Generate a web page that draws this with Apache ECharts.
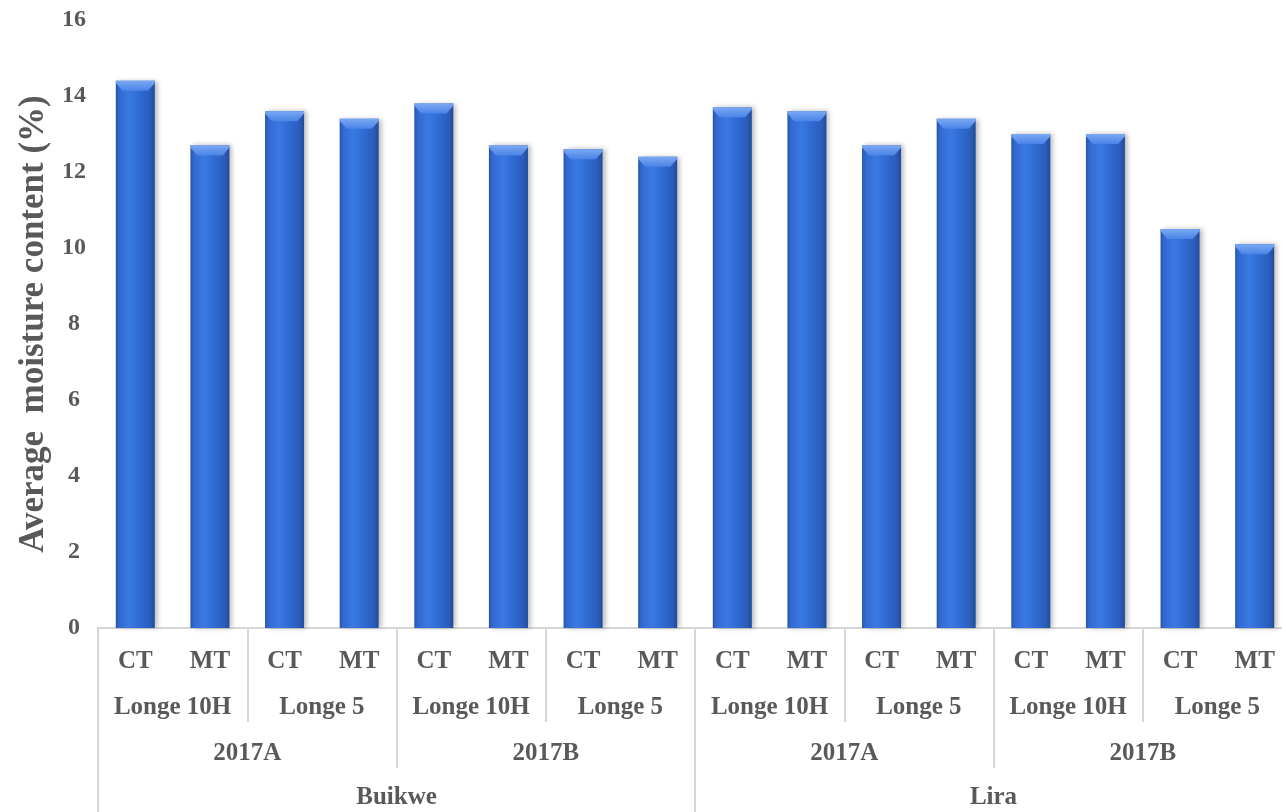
<!DOCTYPE html>
<html>
<head>
<meta charset="utf-8">
<title>Average moisture content</title>
<script src="https://cdn.jsdelivr.net/npm/echarts@6/dist/echarts.min.js"></script>
<style>
  html, body { margin: 0; padding: 0; background: #ffffff; }
  #chart { width: 1282px; height: 812px; }
</style>
</head>
<body>
<div id="chart"></div>
<script>
// Category levels of the x axis (innermost first)
const tillage = ['CT', 'MT', 'CT', 'MT', 'CT', 'MT', 'CT', 'MT',
                 'CT', 'MT', 'CT', 'MT', 'CT', 'MT', 'CT', 'MT'];
const varieties = ['Longe 10H', 'Longe 5', 'Longe 10H', 'Longe 5',
                   'Longe 10H', 'Longe 5', 'Longe 10H', 'Longe 5'];
const seasons = ['2017A', '2017B', '2017A', '2017B'];
const sites = ['Buikwe', 'Lira'];

// Average moisture content (%) per bar
const moisture = [14.4, 12.7, 13.6, 13.4, 13.8, 12.7, 12.6, 12.4,
                  13.7, 13.6, 12.7, 13.4, 13.0, 13.0, 10.5, 10.1];

// Y axis range
const yMin = 0, yMax = 16, yStep = 2;

const FONT = '"Liberation Serif", "Times New Roman", serif';
const TEXT = '#595959';
const LINE = '#d6d6d6';

const labelBase = { fontFamily: FONT, fontWeight: 'bold', fontSize: 25, color: TEXT };

// One category axis per level; tick marks act as the group dividers
function levelAxis(data, margin, tickLen, showLine) {
  return {
    type: 'category',
    data: data,
    position: 'bottom',
    gridIndex: 0,
    boundaryGap: true,
    axisLine: { show: showLine, lineStyle: { color: LINE, width: 2 } },
    axisTick: {
      show: tickLen > 0, interval: 0, alignWithLabel: false,
      length: tickLen, lineStyle: { color: LINE, width: 2 }
    },
    axisLabel: Object.assign({ interval: 0, margin: margin }, labelBase),
    splitLine: { show: false }
  };
}

const chart = echarts.init(document.getElementById('chart'), null, { renderer: 'canvas' });

const barFill = new echarts.graphic.LinearGradient(0, 0, 1, 0, [
  { offset: 0.00, color: '#2753a6' },
  { offset: 0.08, color: '#3168cf' },
  { offset: 0.35, color: '#3a79e3' },
  { offset: 0.60, color: '#306bd4' },
  { offset: 0.88, color: '#2a5cba' },
  { offset: 1.00, color: '#234c98' }
]);

const capFill = new echarts.graphic.LinearGradient(0, 0, 0, 1, [
  { offset: 0, color: '#7aa8f4' },
  { offset: 1, color: '#4a84e6' }
]);

chart.setOption({
  backgroundColor: '#ffffff',
  animation: false,
  grid: {
    left: 98, width: 1194, top: 20, height: 608,
    containLabel: false, outerBoundsMode: 'none'
  },
  xAxis: [
    levelAxis(tillage, 21, 0, true),
    levelAxis(varieties, 67, 94, false),
    levelAxis(seasons, 113, 140, false),
    levelAxis(sites, 157, 190, false)
  ],
  yAxis: {
    type: 'value',
    min: yMin, max: yMax, interval: yStep,
    name: 'Average  moisture content (%)',
    nameLocation: 'middle',
    nameGap: 47,
    nameRotate: 90,
    nameTextStyle: { fontFamily: FONT, fontWeight: 'bold', fontSize: 35, color: TEXT },
    axisLine: { show: false },
    axisTick: { show: false },
    splitLine: { show: false },
    axisLabel: Object.assign({ margin: 24, align: 'center' }, labelBase, { fontSize: 24 })
  },
  series: [
    {
      type: 'bar',
      xAxisIndex: 0,
      data: moisture,
      barWidth: 39,
      itemStyle: {
        color: barFill,
        shadowColor: 'rgba(0,0,0,0.28)',
        shadowBlur: 5,
        shadowOffsetX: 3,
        shadowOffsetY: 0
      },
      z: 2
    },
    {
      // bevelled highlight on each bar's top
      type: 'pictorialBar',
      xAxisIndex: 0,
      data: moisture,
      symbol: 'path://M0,0 L40,0 L40,2 L33,9 L7,9 L0,2 Z',
      symbolSize: [39, 10],
      symbolPosition: 'end',
      symbolOffset: [0, 0],
      itemStyle: { color: capFill },
      silent: true,
      z: 3
    }
  ]
});
</script>
</body>
</html>
